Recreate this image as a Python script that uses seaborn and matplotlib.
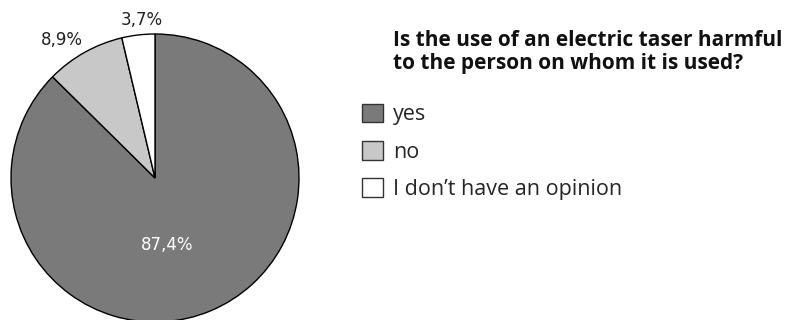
import matplotlib
matplotlib.use('Agg')
import matplotlib.pyplot as plt
import seaborn as sns

categories = ["yes", "no", "I don\u2019t have an opinion"]
shares = [87.4, 8.9, 3.7]
colors = ["#7a7a7a", "#c8c8c8", "#ffffff"]
title = "Is the use of an electric taser harmful\nto the person on whom it is used?"

sns.set_theme(style="white")
plt.rcParams['font.family'] = ['DejaVu Sans']

fig = plt.figure(figsize=(7.85, 3.2), dpi=100)
# pie centre at (155, 178) px, radius 144 px
ax = fig.add_axes([11 / 785, -2 / 320, 288 / 785, 288 / 320])

wedges, _ = ax.pie(shares, colors=colors, startangle=90, counterclock=False,
                   wedgeprops=dict(edgecolor="black", linewidth=1.0))
ax.set_xlim(-1, 1)
ax.set_ylim(-1, 1)
ax.axis("off")

labels = [f"{v:.1f}%".replace(".", ",") for v in shares]
label_pos = [(0.083, -0.465), (-0.646, 0.958), (-0.09, 1.10)]
label_col = ["white", "#222222", "#222222"]
for txt, (x, y), c in zip(labels, label_pos, label_col):
    ax.text(x, y, txt, ha="center", va="center", fontsize=12, color=c, clip_on=False)

fig.text(393 / 785, 1 - 69 / 320, title, ha="left", va="baseline", fontsize=15,
         fontweight="bold", family="Open Sans", color="#111111", linespacing=1.1)

leg = fig.legend(wedges, categories, loc="upper left", bbox_to_anchor=(354 / 785, 1 - 96 / 320),
                 frameon=False, prop={"family": "Open Sans", "size": 15.5},
                 handlelength=1.0, handleheight=0.95, handletextpad=0.45, labelspacing=0.73,
                 borderaxespad=0, borderpad=0.35)
for h in leg.legend_handles:
    h.set_linewidth(1.0)
    h.set_edgecolor("#333333")

fig.savefig("out.png", dpi=100)
